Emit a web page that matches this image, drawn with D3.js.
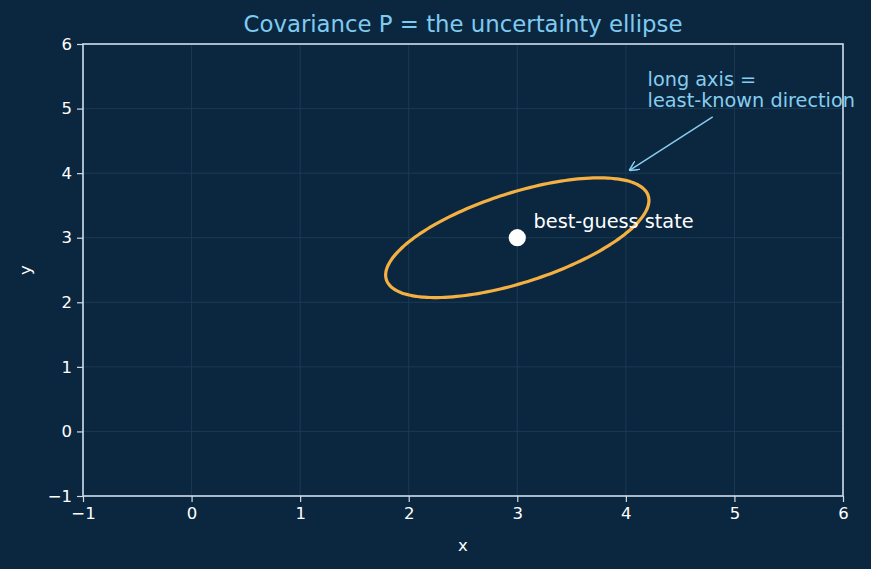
<!DOCTYPE html>
<html><head><meta charset="utf-8">
<script src="https://cdn.jsdelivr.net/npm/d3@7"></script>
<style>
html,body{margin:0;padding:0;background:#0b2740;}
text{font-family:"DejaVu Sans",sans-serif;}
</style></head>
<body>
<svg id="c" width="871" height="569"></svg>
<script>
const xTicks = [-1,0,1,2,3,4,5,6];
const yTicks = [-1,0,1,2,3,4,5,6];
const center = [3, 3];
const covariance = [[1.47, 0.70],[0.70, 0.86]];
const nSigma = 1;
const titleText = "Covariance P = the uncertainty ellipse";
const pointLabel = {x: 3.15, y: 3.15, text: "best-guess state"};
const annotation = {lines: ["long axis =", "least-known direction"], tx: 4.2, ty: 5.02, ax: 4.03, ay: 4.04, sx: 4.8, sy: 4.87};

const W = 871, H = 569;
const m = {l: 83, r: 28, t: 44, b: 73};
const svg = d3.select("#c");
svg.append("rect").attr("width", W).attr("height", H).attr("fill", "#0b2740");

const x = d3.scaleLinear().domain([-1, 6]).range([m.l, W - m.r]);
const y = d3.scaleLinear().domain([-1, 6]).range([H - m.b, m.t]);

// grid
const g = svg.append("g");
g.selectAll(".gx").data(xTicks).join("line")
  .attr("x1", d => x(d)).attr("x2", d => x(d)).attr("y1", y(-1)).attr("y2", y(6))
  .attr("stroke", "#1e3f58").attr("stroke-width", 0.8);
g.selectAll(".gy").data(yTicks).join("line")
  .attr("y1", d => y(d)).attr("y2", d => y(d)).attr("x1", x(-1)).attr("x2", x(6))
  .attr("stroke", "#1e3f58").attr("stroke-width", 0.8);

// axes
const axColor = "#cfdcea";
const fmt = d => d < 0 ? "\u2212" + Math.abs(d) : d;
const xa = svg.append("g").attr("transform", `translate(0,${y(-1)})`)
  .call(d3.axisBottom(x).tickValues(xTicks).tickSize(6).tickPadding(5).tickFormat(fmt));
const ya = svg.append("g").attr("transform", `translate(${x(-1)},0)`)
  .call(d3.axisLeft(y).tickValues(yTicks).tickSize(6).tickPadding(5).tickFormat(fmt));
[xa, ya].forEach(a => {
  a.select(".domain").remove();
  a.selectAll("line").attr("stroke", axColor).attr("stroke-width", 1.2);
  a.selectAll("text").attr("fill", "#ffffff").attr("font-size", 16.5).attr("font-family", "DejaVu Sans");
});
// spines
svg.append("rect").attr("x", x(-1)).attr("y", y(6)).attr("width", x(6) - x(-1)).attr("height", y(-1) - y(6))
  .attr("fill", "none").attr("stroke", axColor).attr("stroke-width", 1.6);

// axis labels
svg.append("text").attr("x", (x(-1) + x(6)) / 2).attr("y", 551).attr("text-anchor", "middle")
  .attr("fill", "#ffffff").attr("font-size", 16.5).text("x");
svg.append("text").attr("transform", `translate(31,${(y(-1) + y(6)) / 2}) rotate(-90)`).attr("text-anchor", "middle")
  .attr("fill", "#ffffff").attr("font-size", 16.5).text("y");

// title
svg.append("text").attr("x", (x(-1) + x(6)) / 2).attr("y", 31.5).attr("text-anchor", "middle")
  .attr("fill", "#7fcbf0").attr("font-size", 22.8).text(titleText);

// ellipse from covariance eigen-decomposition
const a = covariance[0][0], b = covariance[0][1], c = covariance[1][1];
const tr = a + c, det = a * c - b * b;
const l1 = tr / 2 + Math.sqrt(tr * tr / 4 - det), l2 = tr / 2 - Math.sqrt(tr * tr / 4 - det);
const theta = Math.atan2(l1 - a, b);
const ra = nSigma * Math.sqrt(l1), rb = nSigma * Math.sqrt(l2);
const pts = d3.range(0, 360, 2).map(t => {
  const r = t * Math.PI / 180;
  const ex = ra * Math.cos(r), ey = rb * Math.sin(r);
  return [center[0] + ex * Math.cos(theta) - ey * Math.sin(theta), center[1] + ex * Math.sin(theta) + ey * Math.cos(theta)];
});
svg.append("path").datum(pts)
  .attr("d", d3.line().x(d => x(d[0])).y(d => y(d[1])).curve(d3.curveCardinalClosed))
  .attr("fill", "none").attr("stroke", "#f5b042").attr("stroke-width", 3.2);

// center point
svg.append("circle").attr("cx", x(center[0])).attr("cy", y(center[1])).attr("r", 8.6).attr("fill", "#ffffff");
svg.append("text").attr("x", x(pointLabel.x)).attr("y", y(pointLabel.y)).attr("fill", "#ffffff")
  .attr("font-size", 19.3).text(pointLabel.text);

// annotation
const annColor = "#87cdee";
svg.append("defs").append("marker").attr("id", "ah").attr("viewBox", "0 0 10 10").attr("refX", 10).attr("refY", 5)
  .attr("markerWidth", 10).attr("markerHeight", 10).attr("markerUnits", "userSpaceOnUse").attr("orient", "auto")
  .append("path").attr("d", "M0,0 L10,5 L0,10").attr("fill", "none").attr("stroke", annColor).attr("stroke-width", 1.5);
svg.append("line").attr("x1", x(annotation.sx)).attr("y1", y(annotation.sy)).attr("x2", x(annotation.ax)).attr("y2", y(annotation.ay))
  .attr("stroke", annColor).attr("stroke-width", 1.5).attr("marker-end", "url(#ah)");
const at = svg.append("text").attr("fill", annColor).attr("font-size", 19.3);
annotation.lines.forEach((ln, i) => {
  at.append("tspan").attr("x", x(annotation.tx)).attr("y", y(annotation.ty) - (annotation.lines.length - 1 - i) * 21.5).text(ln);
});
</script>
</body></html>
